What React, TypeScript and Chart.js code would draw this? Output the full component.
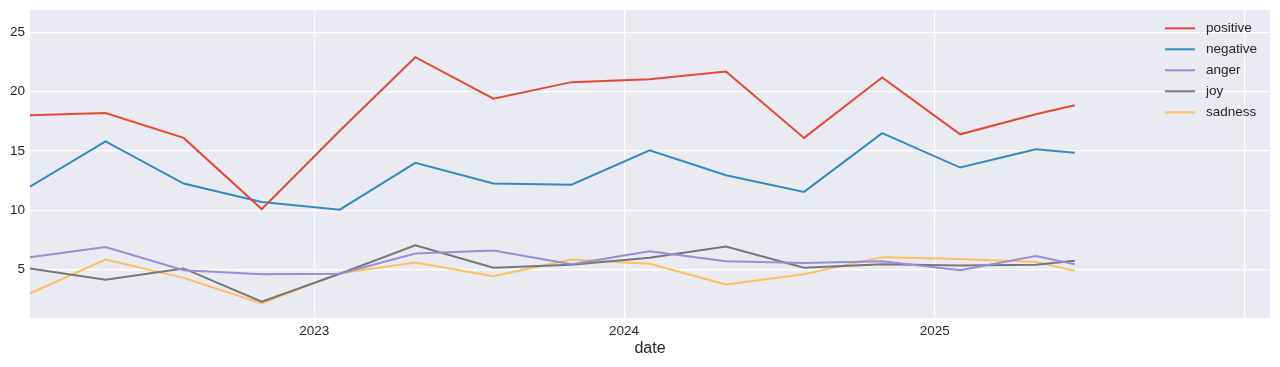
import React, { useEffect, useRef } from "react";
import { Chart, registerables } from "chart.js";

Chart.register(...registerables);

const dates = [
  "2022-01-31", "2022-04-30", "2022-07-31", "2022-10-31",
  "2023-01-31", "2023-04-30", "2023-07-31", "2023-10-31",
  "2024-01-31", "2024-04-30", "2024-07-31", "2024-10-31",
  "2025-01-31", "2025-04-30", "2025-06-15",
];
const positive = [18.0, 18.2, 16.1, 10.1, 16.7, 22.9, 19.4, 20.8, 21.05, 21.7, 16.1, 21.2, 16.4, 18.1, 18.85];
const negative = [12.0, 15.8, 12.25, 10.7, 10.05, 14.0, 12.25, 12.15, 15.05, 12.95, 11.55, 16.5, 13.6, 15.15, 14.85];
const anger = [6.05, 6.9, 4.95, 4.6, 4.65, 6.35, 6.6, 5.45, 6.55, 5.7, 5.55, 5.7, 4.95, 6.15, 5.45];
const joy = [5.1, 4.15, 5.1, 2.3, 4.65, 7.05, 5.15, 5.4, 6.0, 6.95, 5.15, 5.45, 5.35, 5.4, 5.75];
const sadness = [3.0, 5.85, 4.3, 2.15, 4.7, 5.6, 4.45, 5.85, 5.5, 3.75, 4.6, 6.05, 5.9, 5.65, 4.9];

const seriesNames = ["positive", "negative", "anger", "joy", "sadness"];
const seriesValues = [positive, negative, anger, joy, sadness];
const seriesColors = ["#E24A33", "#348ABD", "#988ED5", "#777777", "#FBC15E"];

const xRange = ["2022-01-31", "2026-01-31"];
const yearTicks = [2023, 2024, 2025, 2026];
const labeledYears = [2023, 2024, 2025];
const yTicks = [5, 10, 15, 20, 25];
const yRange = [0.92, 26.88];

const FONT = "'Liberation Sans', Arial, sans-serif";
const TEXT = "#262626";

const legendPlugin = {
  id: "customLegend",
  afterDraw(chart: any) {
    const ctx = chart.ctx;
    const area = chart.chartArea;
    const x0 = area.right - 105;
    const y0 = area.top + 18.3;
    ctx.save();
    chart.data.datasets.forEach((ds: any, i: number) => {
      const y = y0 + i * 21;
      ctx.strokeStyle = ds.borderColor;
      ctx.lineWidth = 2;
      ctx.beginPath();
      ctx.moveTo(x0, y);
      ctx.lineTo(x0 + 30, y);
      ctx.stroke();
      ctx.fillStyle = TEXT;
      ctx.font = `13.5px ${FONT}`;
      ctx.textBaseline = "middle";
      ctx.textAlign = "left";
      ctx.fillText(ds.label, x0 + 41, y);
    });
    ctx.restore();
  },
};

const bgPlugin = {
  id: "plotBg",
  beforeDraw(chart: any) {
    const { ctx, chartArea } = chart;
    ctx.save();
    ctx.fillStyle = "#EAEAF2";
    ctx.fillRect(chartArea.left, chartArea.top, chartArea.right - chartArea.left, chartArea.bottom - chartArea.top);
    ctx.restore();
  },
};

export default function App() {
  const ref = useRef<HTMLCanvasElement | null>(null);
  useEffect(() => {
    document.body.style.margin = "0";
    const canvas = ref.current!;
    const xs = dates.map((d) => Date.parse(d));
    const chart = new Chart(canvas, {
      type: "line",
      data: {
        datasets: seriesNames.map((name, i) => ({
          label: name,
          data: seriesValues[i].map((v, j) => ({ x: xs[j], y: v })),
          borderColor: seriesColors[i],
          backgroundColor: seriesColors[i],
          borderWidth: 2,
          pointRadius: 0,
          tension: 0,
          fill: false,
        })),
      },
      options: {
        responsive: false,
        animation: false,
        maintainAspectRatio: false,
        layout: { padding: { top: 10, right: 10, left: 0, bottom: 0 } },
        plugins: {
          legend: { display: false },
          tooltip: { enabled: false },
        },
        scales: {
          x: {
            type: "linear",
            min: Date.parse(xRange[0]),
            max: Date.parse(xRange[1]),
            afterBuildTicks(scale: any) {
              scale.ticks = yearTicks.map((y) => ({ value: Date.parse(`${y}-01-01`) }));
            },
            afterFit(scale: any) {
              scale.height = 49;
              scale.paddingLeft = 0;
              scale.paddingRight = 0;
            },
            ticks: {
              autoSkip: false,
              maxRotation: 0,
              padding: 5,
              color: TEXT,
              font: { family: FONT, size: 13.5 },
              callback(value: any) {
                const y = new Date(value).getUTCFullYear();
                return labeledYears.includes(y) ? String(y) : "";
              },
            },
            grid: { color: "#FFFFFF", lineWidth: 1.2, drawTicks: false },
            border: { display: false },
            title: {
              display: true,
              text: "date",
              color: TEXT,
              font: { family: FONT, size: 16 },
              padding: { top: 0, bottom: 9 },
            },
          },
          y: {
            type: "linear",
            min: yRange[0],
            max: yRange[1],
            afterBuildTicks(scale: any) {
              scale.ticks = yTicks.map((v) => ({ value: v }));
            },
            afterFit(scale: any) {
              scale.width = 30;
              scale.paddingTop = 0;
              scale.paddingBottom = 0;
            },
            ticks: {
              padding: 5,
              color: TEXT,
              font: { family: FONT, size: 13.5 },
              callback(value: any) {
                return String(value);
              },
            },
            grid: { color: "#FFFFFF", lineWidth: 1.2, drawTicks: false },
            border: { display: false },
          },
        },
      },
      plugins: [bgPlugin, legendPlugin],
    } as any);
    return () => chart.destroy();
  }, []);
  return (
    <div style={{ width: 1280, height: 367, background: "#FFFFFF" }}>
      <canvas ref={ref} width={1280} height={367} style={{ display: "block" }} />
    </div>
  );
}
